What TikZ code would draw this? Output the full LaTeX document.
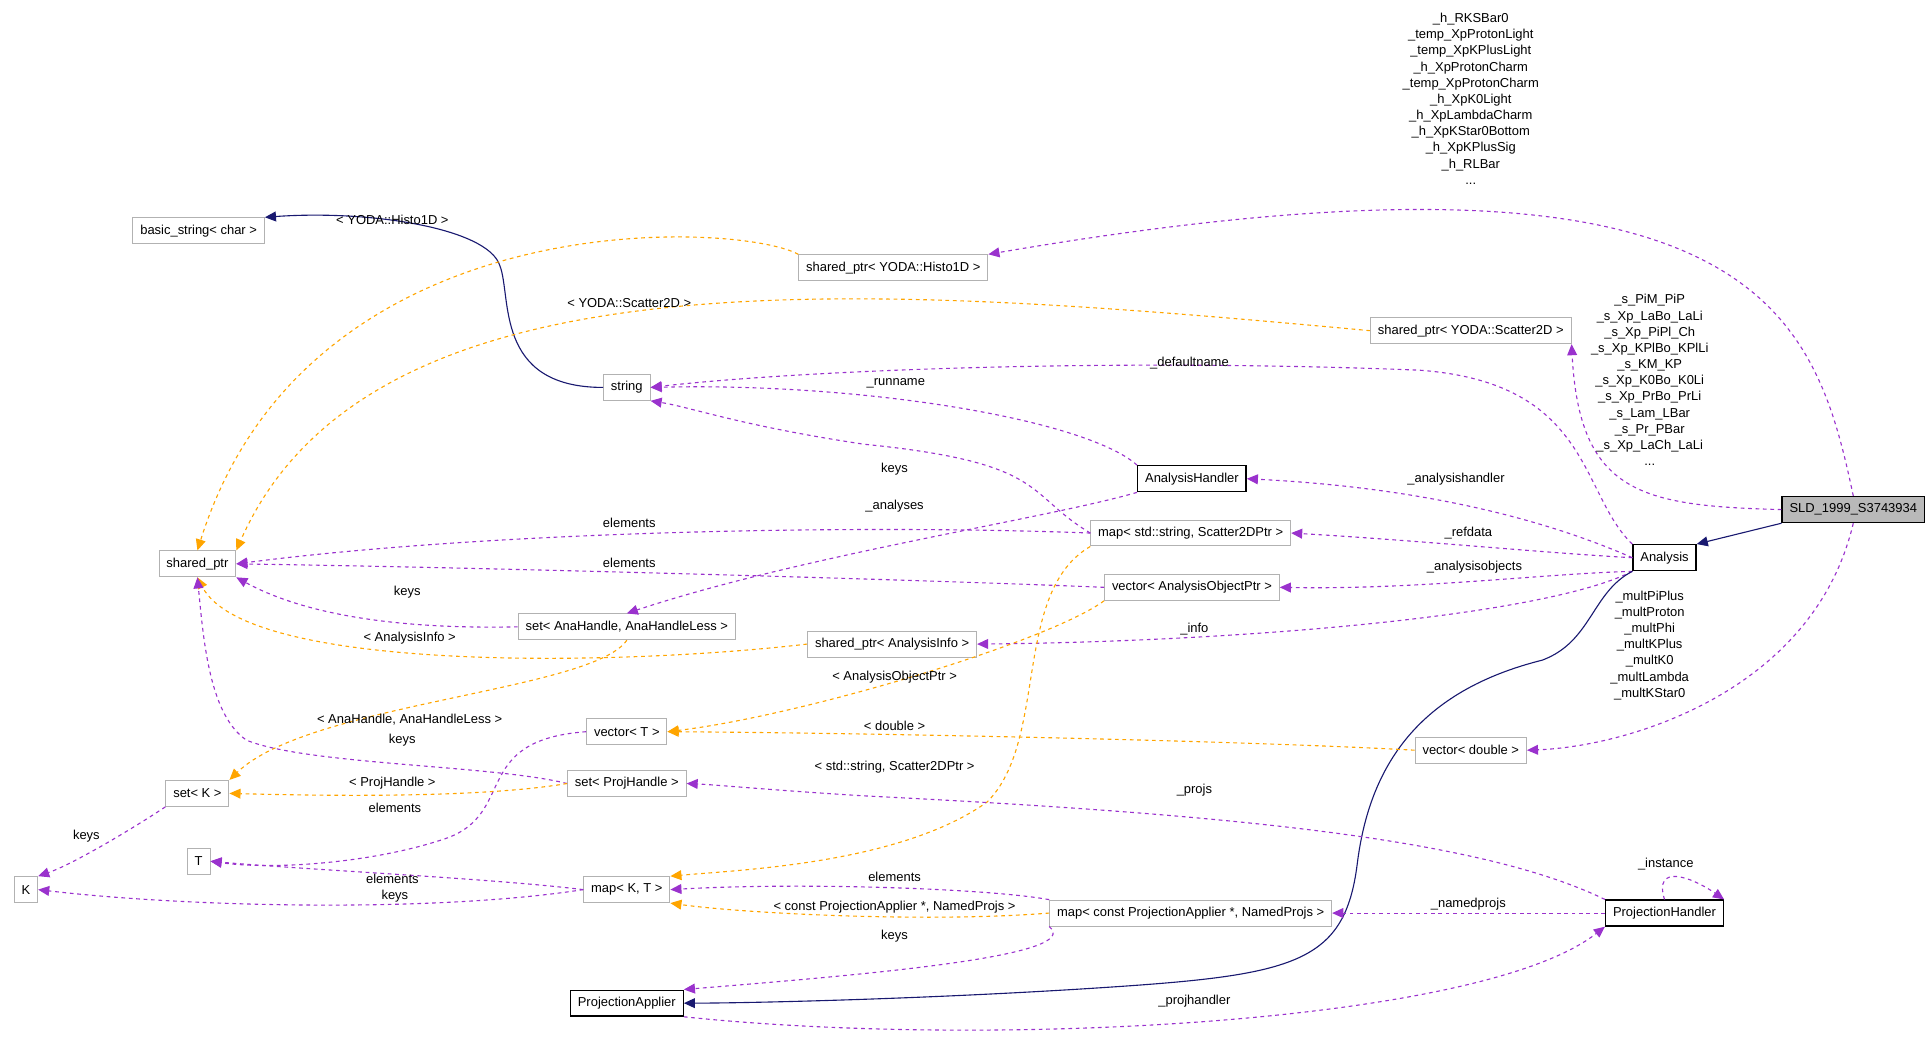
\documentclass[tikz,border=0pt]{standalone}
\usepackage{fontspec}
\setmainfont{Liberation Sans}
\usetikzlibrary{arrows.meta}
\definecolor{dep}{HTML}{9A32CD}
\definecolor{tpl}{HTML}{FFA500}
\definecolor{inh}{HTML}{191970}
\begin{document}
\begin{tikzpicture}[x=1pt,y=-1pt,font=\fontsize{10.5}{12}\selectfont,
  cls/.style={draw=gray!60,rectangle,minimum height=21pt,inner xsep=6pt,inner ysep=0pt,line width=0.8pt},
  bcls/.style={cls,draw=black,line width=1.1pt},
  use/.style={dep,dashed,line width=0.9pt,-{Triangle[length=9pt,width=8pt]}},
  tmp/.style={tpl,dashed,line width=0.9pt,-{Triangle[length=9pt,width=8pt]}},
  isa/.style={inh,line width=0.9pt,-{Triangle[length=9pt,width=8pt]}},
  lbl/.style={inner sep=1pt,align=center,text=black,font=\fontsize{10.5}{13.1}\selectfont}]
\useasboundingbox (0,0) rectangle (1565,840);
\node[cls] (bs) at (161,187) {basic\_string< char >};
\node[cls] (sh1) at (724,217) {shared\_ptr< YODA::Histo1D >};
\node[cls] (shs) at (1192,268) {shared\_ptr< YODA::Scatter2D >};
\node[cls] (str) at (508,314) {string};
\node[bcls] (ah) at (966,388) {AnalysisHandler};
\node[cls,draw=black,fill=gray!55,line width=1.1pt] (sld) at (1502,413) {SLD\_1999\_S3743934};
\node[cls] (sp) at (160,457) {shared\_ptr};
\node[cls] (mss) at (965,432) {map< std::string, Scatter2DPtr >};
\node[bcls] (an) at (1349,452) {Analysis};
\node[cls] (vao) at (966,476) {vector< AnalysisObjectPtr >};
\node[cls] (sah) at (508,508) {set< AnaHandle, AnaHandleLess >};
\node[cls] (sai) at (723,522) {shared\_ptr< AnalysisInfo >};
\node[cls] (vt) at (508,593) {vector< T >};
\node[cls] (vd) at (1192,608) {vector< double >};
\node[cls] (sk) at (160,643) {set< K >};
\node[cls] (sph) at (508,635) {set< ProjHandle >};
\node[cls] (T) at (161,698) {T};
\node[cls] (K) at (21,721) {K};
\node[cls] (mkt) at (508,721) {map< K, T >};
\node[cls] (mpa) at (965,740) {map< const ProjectionApplier *, NamedProjs >};
\node[bcls] (ph) at (1349,740) {ProjectionHandler};
\node[bcls] (pa) at (508,813) {ProjectionApplier};

\draw[isa] (str.west) .. controls (400,314) and (415,240) .. (405,215) .. controls (395,185) and (300,170) .. (bs.north east);
\draw[tmp] (sh1.north west) .. controls (600,180) and (250,160) .. (sp.north);
\node[lbl] at (318,178) {< YODA::Histo1D >};
\draw[tmp] (shs.west) .. controls (700,230) and (300,200) .. (sp.north east);
\node[lbl] at (510,246) {< YODA::Scatter2D >};
\draw[use] (sld.north) .. controls (1470,250) and (1420,100) .. (sh1.north east);
\node[lbl] at (1192,80) {\_h\_RKSBar0\\\_temp\_XpProtonLight\\\_temp\_XpKPlusLight\\\_h\_XpProtonCharm\\\_temp\_XpProtonCharm\\\_h\_XpK0Light\\\_h\_XpLambdaCharm\\\_h\_XpKStar0Bottom\\\_h\_XpKPlusSig\\\_h\_RLBar\\...};
\draw[use] (sld.west) .. controls (1330,410) and (1280,400) .. (shs.south east);
\node[lbl] at (1337,308) {\_s\_PiM\_PiP\\\_s\_Xp\_LaBo\_LaLi\\\_s\_Xp\_PiPl\_Ch\\\_s\_Xp\_KPlBo\_KPlLi\\\_s\_KM\_KP\\\_s\_Xp\_K0Bo\_K0Li\\\_s\_Xp\_PrBo\_PrLi\\\_s\_Lam\_LBar\\\_s\_Pr\_PBar\\\_s\_Xp\_LaCh\_LaLi\\...};
\draw[use] (sld.south) .. controls (1470,560) and (1320,605) .. (vd.east);
\node[lbl] at (1337,523) {\_multPiPlus\\\_multProton\\\_multPhi\\\_multKPlus\\\_multK0\\\_multLambda\\\_multKStar0};
\draw[isa] (sld.south west) -- (an.north east);
\draw[use] (an.north west) .. controls (1280,400) and (1290,310) .. (1150,300) .. controls (900,290) and (650,300) .. (str.east);
\node[lbl] at (964,294) {\_defaultname};
\draw[use] (ah.north west) .. controls (880,340) and (700,310) .. (str.east);
\node[lbl] at (726,311) {\_runname};
\draw[use] (an.west) .. controls (1250,420) and (1150,395) .. (ah.east);
\node[lbl] at (1180,388) {\_analysishandler};
\draw[use] (an.west) .. controls (1250,448) and (1150,438) .. (mss.east);
\node[lbl] at (1190,432) {\_refdata};
\draw[use] (an.south west) .. controls (1250,465) and (1150,478) .. (vao.east);
\node[lbl] at (1195,460) {\_analysisobjects};
\draw[use] (an.south west) .. controls (1250,500) and (1000,520) .. (sai.east);
\node[lbl] at (968,510) {\_info};
\draw[isa] (an.south west) .. controls (1290,480) and (1290,520) .. (1250,535) .. controls (1150,560) and (1110,620) .. (1100,700) .. controls (1090,780) and (1050,790) .. (900,800) .. controls (750,810) and (600,813) .. (pa.east);
\draw[use] (mss.west) .. controls (830,400) and (850,375) .. (700,360) .. controls (600,345) and (560,330) .. (str.south east);
\node[lbl] at (725,380) {keys};
\draw[use] (mss.west) .. controls (700,425) and (400,430) .. (sp.east);
\node[lbl] at (510,424) {elements};
\draw[tmp] (mss.south west) .. controls (820,480) and (850,600) .. (800,650) .. controls (730,700) and (600,705) .. (mkt.north east);
\node[lbl] at (725,622) {< std::string, Scatter2DPtr >};
\draw[use] (ah.south west) .. controls (850,420) and (650,450) .. (sah.north);
\node[lbl] at (725,410) {\_analyses};
\draw[use] (vao.west) .. controls (750,470) and (400,460) .. (sp.east);
\node[lbl] at (510,456) {elements};
\draw[tmp] (vao.south west) .. controls (850,520) and (650,580) .. (vt.east);
\node[lbl] at (725,549) {< AnalysisObjectPtr >};
\draw[use] (sah.west) .. controls (330,510) and (250,500) .. (sp.south east);
\node[lbl] at (330,480) {keys};
\draw[tmp] (sah.south) .. controls (480,560) and (250,570) .. (sk.north east);
\node[lbl] at (332,583) {< AnaHandle, AnaHandleLess >};
\draw[tmp] (sai.west) .. controls (500,540) and (200,545) .. (sp.south);
\node[lbl] at (332,517) {< AnalysisInfo >};
\draw[use] (vt.west) .. controls (380,600) and (420,660) .. (360,680) .. controls (300,700) and (220,705) .. (T.east);
\node[lbl] at (320,655) {elements};
\draw[tmp] (vd.west) .. controls (1000,600) and (700,594) .. (vt.east);
\node[lbl] at (725,588) {< double >};
\draw[use] (sph.west) .. controls (400,620) and (250,620) .. (200,600) .. controls (170,580) and (165,520) .. (sp.south);
\node[lbl] at (326,600) {keys};
\draw[tmp] (sph.west) .. controls (400,645) and (300,646) .. (sk.east);
\node[lbl] at (318,635) {< ProjHandle >};
\draw[use] (sk.south west) .. controls (110,670) and (60,700) .. (K.north east);
\node[lbl] at (70,678) {keys};
\draw[use] (ph.north west) .. controls (1200,680) and (1000,660) .. (700,645) .. controls (620,640) and (580,636) .. (sph.east);
\node[lbl] at (968,640) {\_projs};
\draw[use] (ph.north) .. controls (1340,700) and (1370,710) .. (ph.north east);
\node[lbl] at (1350,700) {\_instance};
\draw[use] (ph.west) -- (mpa.east);
\node[lbl] at (1190,733) {\_namedprojs};
\draw[use] (mpa.north west) .. controls (800,720) and (650,715) .. (mkt.east);
\node[lbl] at (725,711) {elements};
\draw[tmp] (mpa.west) .. controls (750,748) and (600,740) .. (mkt.south east);
\node[lbl] at (725,735) {< const ProjectionApplier *, NamedProjs >};
\draw[use] (mpa.south west) .. controls (880,775) and (700,790) .. (pa.north east);
\node[lbl] at (725,759) {keys};
\draw[use] (mkt.west) .. controls (400,712) and (250,705) .. (T.east);
\node[lbl] at (318,712) {elements};
\draw[use] (mkt.west) .. controls (350,740) and (150,735) .. (K.east);
\node[lbl] at (320,726) {keys};
\draw[use] (pa.south east) .. controls (800,850) and (1200,830) .. (ph.south west);
\node[lbl] at (968,811) {\_projhandler};
\end{tikzpicture}
\end{document}
